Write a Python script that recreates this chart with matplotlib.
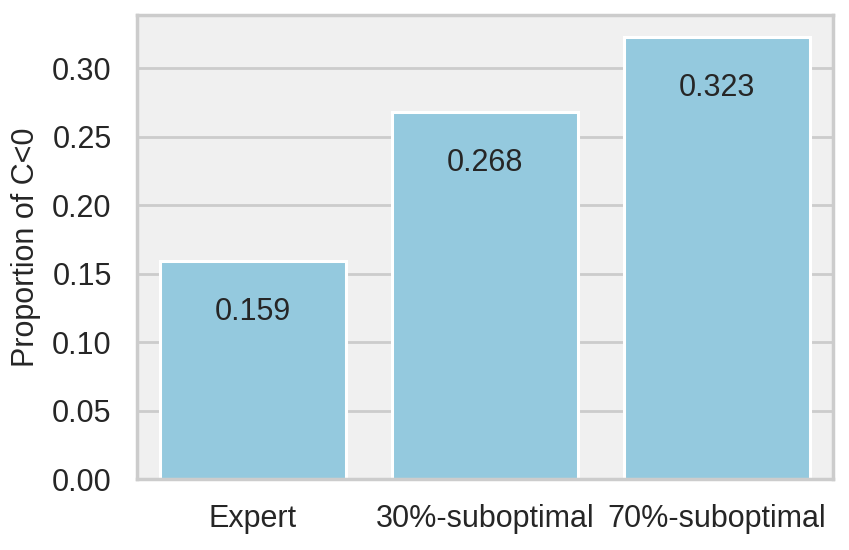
import matplotlib
matplotlib.use("Agg")
import matplotlib.pyplot as plt
import seaborn as sns

# data
categories = ["Expert", "30%-suboptimal", "70%-suboptimal"]
values = [0.159, 0.268, 0.323]

sns.set_theme(style="whitegrid")
plt.rcParams["font.family"] = ["Liberation Sans", "DejaVu Sans"]
plt.rcParams["axes.facecolor"] = "#f0f0f0"
plt.rcParams["axes.edgecolor"] = "#cccccc"
plt.rcParams["grid.color"] = "#cccccc"

fig, ax = plt.subplots(figsize=(8.49, 5.5), dpi=100)
sns.barplot(x=categories, y=values, color="skyblue", edgecolor="white",
            linewidth=2.2, ax=ax)

for i, v in enumerate(values):
    ax.text(i, v - 0.037, f"{v:.3f}", ha="center", va="center",
            fontsize=22, color="#262626")

ax.set_ylabel("Proportion of C<0", fontsize=22, color="#262626", labelpad=8)
ax.tick_params(axis="both", labelsize=22, colors="#262626", pad=12)
ax.grid(axis="y", linewidth=2, color="#cccccc")
ax.grid(axis="x", visible=False)
for s in ax.spines.values():
    s.set_linewidth(2.5)
    s.set_color("#cccccc")
ax.set_axisbelow(True)

fig.subplots_adjust(left=0.161, right=0.981, top=0.973, bottom=0.129)
fig.savefig("out.png", dpi=100)
